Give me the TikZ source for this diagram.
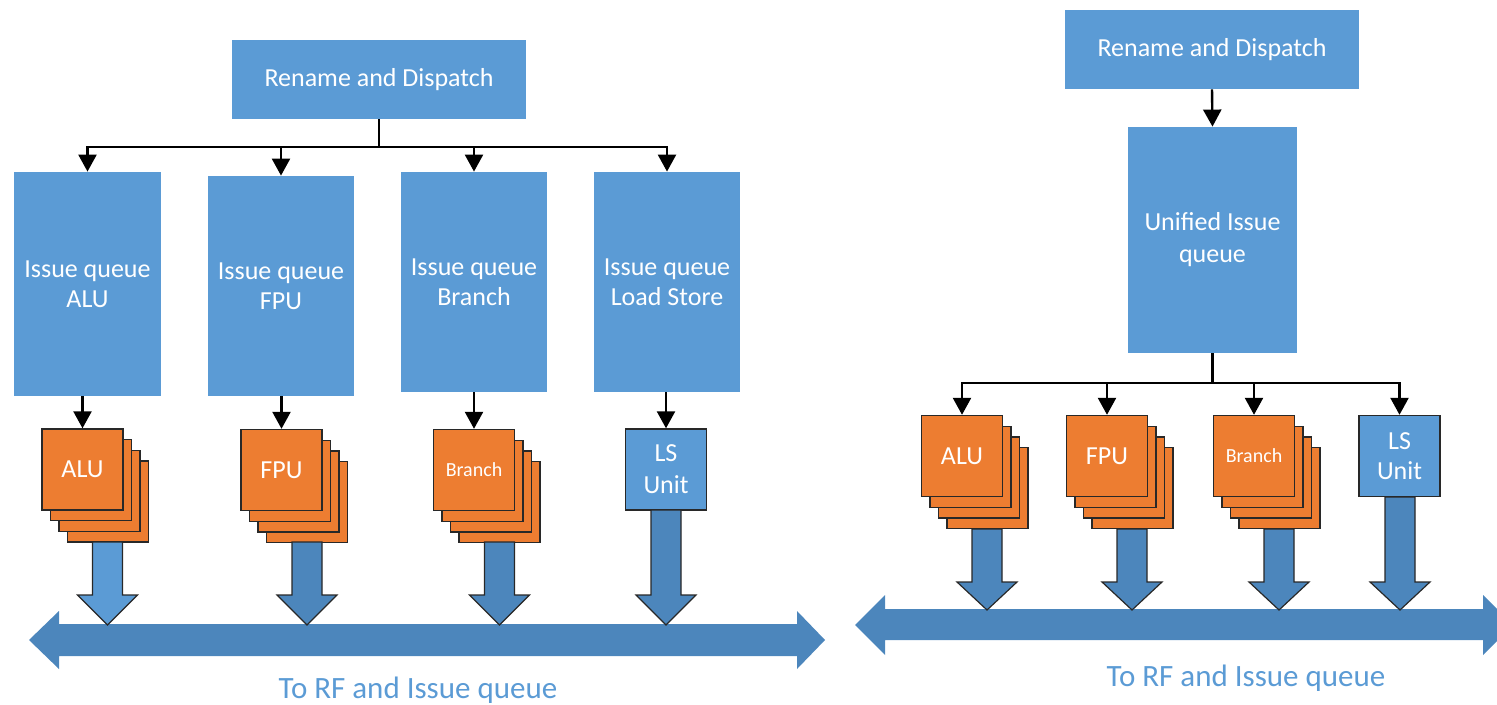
\documentclass[tikz,border=0pt]{standalone}
\usepackage{fontspec}
\setmainfont{Carlito}
\usetikzlibrary{arrows.meta,calc}

\definecolor{boxblue}{RGB}{91,155,213}
\definecolor{unitorange}{RGB}{237,125,49}
\definecolor{busblue}{RGB}{76,134,188}
\definecolor{edgegray}{RGB}{40,40,40}

\tikzset{
  stagebox/.style={fill=boxblue, text=white, inner sep=0pt, align=center,
    font=\fontsize{13}{15}\selectfont},
  unitbox/.style={draw=edgegray, line width=0.7pt, inner sep=0pt, align=center,
    text=white, minimum width=40.5pt, minimum height=40.5pt,
    font=\fontsize{13}{15}\selectfont},
  aluunit/.style={unitbox, fill=unitorange},
  lsunit/.style={unitbox, fill=boxblue},
  conn/.style={line width=1.2pt, -{Triangle[width=9pt,length=8.5pt]}},
  barrow/.style={draw=edgegray, line width=0.6pt, fill=busblue, line join=miter},
  barrowlight/.style={barrow, fill=boxblue},
  bus/.style={fill=busblue},
  caption/.style={text=boxblue, font=\fontsize{15.5}{18}\selectfont, anchor=base}
}

% a stack of four execution units, front one carries the label
\newcommand\unitstack[4]{%
  \foreach \k in {3,2,1}{\node[aluunit] (#1-\k) at ({#2+8.5*\k},{#3+10.7*\k}) {};}
  \node[aluunit] (#1) at (#2,#3) {#4};
}
% wide block arrow pointing down: style, x, top, head base, tip
\newcommand\blockdown[5]{%
  \draw[#1] ({#2-15},#3) -- ({#2+15},#3) -- ({#2+15},#4) -- ({#2+30},#4)
    -- (#2,#5) -- ({#2-30},#4) -- ({#2-15},#4) -- cycle;
}

\begin{document}
\begin{tikzpicture}[x=0.5pt,y=-0.5pt]
\useasboundingbox (0,0) rectangle (1497,705);
\clip (0,0) rectangle (1497,705);

% ---------- distributed issue queues ----------
\node[stagebox, minimum width=147pt, minimum height=39.5pt] (rd) at (379,79.5) {Rename and Dispatch};
\node[stagebox, minimum width=73.5pt, minimum height=112pt] (q1) at (87.5,284) {Issue queue\\ALU};
\node[stagebox, minimum width=73pt, minimum height=110pt] (q2) at (281,286) {Issue queue\\FPU};
\node[stagebox, minimum width=73pt, minimum height=110pt] (q3) at (474,282) {Issue queue\\Branch};
\node[stagebox, minimum width=73pt, minimum height=110pt] (q4) at (667,282) {Issue queue\\Load Store};

\coordinate (j1) at (rd.south |- 0,147);
\draw[line width=1.2pt] (rd.south) -- (j1);
\foreach \q in {q1,q2,q3,q4}{\draw[conn] (j1) -| (\q.north);}

\unitstack{u1}{82.5}{469.5}{ALU}
\unitstack{u2}{281.5}{470}{FPU}
\unitstack{u3}{474}{470}{\fontsize{10}{12}\selectfont Branch}
\node[lsunit, font=\fontsize{13}{16}\selectfont] (ls) at (666,469.5) {LS\\Unit};

\draw[conn] (u1.north |- q1.south) -- (u1.north);
\draw[conn] (u2.north |- q2.south) -- (u2.north);
\draw[conn] (u3.north |- q3.south) -- (u3.north);
\draw[conn] (ls.north |- q4.south) -- (ls.north);

% result bus
\fill[bus] (29,640) -- (59,611) -- (59,624) -- (797,624) -- (797,611) -- (825,640)
  -- (797,669) -- (797,656) -- (59,656) -- (59,669) -- cycle;
\blockdown{barrowlight}{107.5}{542}{595}{625}
\blockdown{barrow}{307}{542}{595}{625}
\blockdown{barrow}{499.5}{542}{595}{625}
\blockdown{barrow}{666}{510}{595}{625}

\node[caption] (c1) at (418,698) {To RF and Issue queue};

% ---------- unified issue queue ----------
\node[stagebox, minimum width=147pt, minimum height=39.5pt] (rd2) at (1212,49.5) {Rename and Dispatch};
\node[stagebox, minimum width=84.5pt, minimum height=113pt, font=\fontsize{13}{16}\selectfont] (uq) at (1212.5,240) {Unified Issue\\queue};
\draw[conn] (rd2.south) -- (uq.north);

\unitstack{r1}{962}{456}{ALU}
\unitstack{r2}{1107}{456}{FPU}
\unitstack{r3}{1254}{456}{\fontsize{10}{12}\selectfont Branch}
\node[lsunit] (rls) at (1399.5,456) {LS\\Unit};

\coordinate (j2) at (uq.south |- 0,383);
\draw[line width=1.2pt] (uq.south) -- (j2);
\foreach \u in {r1,r2,r3,rls}{\draw[conn] (j2) -| (\u.north);}

\fill[bus] (855,625) -- (885,595) -- (885,609) -- (1483,609) -- (1483,595) -- (1513,625)
  -- (1483,655) -- (1483,640) -- (885,640) -- (885,655) -- cycle;
\blockdown{barrow}{987}{529}{582}{610}
\blockdown{barrow}{1132}{529}{582}{610}
\blockdown{barrow}{1279}{529}{582}{610}
\blockdown{barrow}{1400}{497}{582}{610}

\node[caption] (c2) at (1246,686) {To RF and Issue queue};
\end{tikzpicture}
\end{document}
